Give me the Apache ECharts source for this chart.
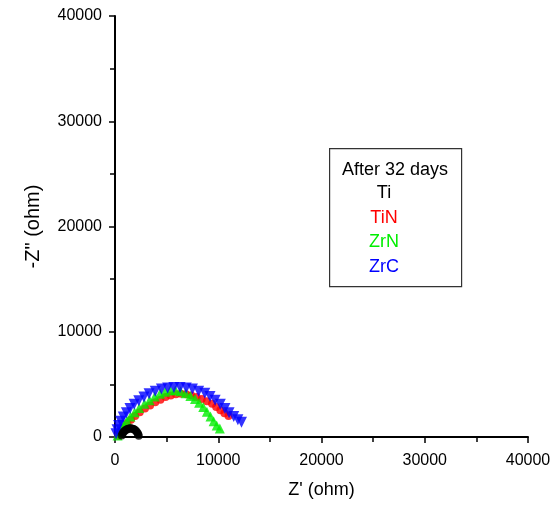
<!DOCTYPE html>
<html><head><meta charset="utf-8">
<script src="https://cdn.jsdelivr.net/npm/echarts@6/dist/echarts.min.js"></script>
<style>html,body{margin:0;padding:0;background:#fff}#c{width:558px;height:505px}</style>
</head><body><div id="c"></div>
<script>
var seriesNames = ['Ti', 'TiN', 'ZrN', 'ZrC'];
var legendTitle = 'After 32 days';
var xTicks = [0, 10000, 20000, 30000, 40000];
var yTicks = [0, 10000, 20000, 30000, 40000];

var ti = [[650,150],[720,300],[800,430],[900,540],[1000,630],[1100,700],[1200,750],[1300,790],[1400,810],[1500,820],[1600,810],[1700,790],[1800,750],[1900,690],[2000,610],[2100,510],[2180,390],[2250,260],[2300,130]];
var tin = [[300,100],[450,350],[650,650],[900,950],[1200,1300],[1550,1650],[1950,2000],[2400,2350],[2900,2700],[3400,3000],[3900,3300],[4400,3550],[4900,3800],[5400,3950],[5900,4050],[6400,4100],[6900,4050],[7400,3950],[7900,3800],[8400,3600],[8900,3400],[9400,3150],[9800,2850],[10200,2550],[10600,2250],[11000,2000]];
var zrn = [[250,150],[400,450],[600,800],[850,1150],[1150,1550],[1500,1950],[1900,2350],[2350,2750],[2850,3150],[3350,3500],[3850,3850],[4350,4100],[4850,4300],[5350,4450],[5850,4450],[6350,4350],[6850,4150],[7300,3900],[7750,3600],[8150,3250],[8550,2850],[8900,2400],[9250,1950],[9550,1500],[9850,1100],[10150,800]];
var zrc = [[100,300],[200,700],[350,1100],[550,1500],[800,1900],[1100,2300],[1450,2700],[1850,3100],[2300,3450],[2800,3800],[3300,4100],[3900,4350],[4500,4550],[5100,4650],[5700,4700],[6300,4700],[6900,4650],[7500,4550],[8100,4350],[8700,4150],[9200,3850],[9700,3500],[10200,3100],[10650,2700],[11050,2300],[11500,1950],[11900,1650],[12250,1400]];

var colors = ['#000000', '#ff0000', '#00ee00', '#0000ff'];
var chart = echarts.init(document.getElementById('c'));
function fmt(v) { return String(v); }
var axisCommon = {
  min: 0, max: 40000, interval: 10000,
  axisLine: {show: true, lineStyle: {color: '#000', width: 2}},
  axisTick: {show: true, inside: false, length: 6, lineStyle: {color: '#000', width: 1.5}},
  minorTick: {show: true, splitNumber: 2, length: 5, lineStyle: {color: '#000', width: 1.5}},
  splitLine: {show: false},
  nameLocation: 'middle'
};
var labelStyle = {color: '#000', fontFamily: 'Liberation Sans, Arial', fontSize: 16, formatter: fmt};
var option = {
  animation: false,
  backgroundColor: '#fff',
  grid: {left: 115, right: 30, top: 16, bottom: 68, containLabel: false},
  xAxis: Object.assign({}, axisCommon, {type: 'value', name: "Z' (ohm)", nameGap: 44,
    nameTextStyle: {color: '#000', fontFamily: 'Liberation Sans, Arial', fontSize: 18},
    axisLabel: Object.assign({}, labelStyle, {margin: 16})}),
  yAxis: Object.assign({}, axisCommon, {type: 'value', name: '-Z" (ohm)', nameGap: 72,
    nameTextStyle: {color: '#000', fontFamily: 'Liberation Sans, Arial', fontSize: 20},
    axisLabel: Object.assign({}, labelStyle, {margin: 13})}),
  series: [
    {name: seriesNames[1], type: 'scatter', data: tin, symbol: 'circle', symbolSize: 8, itemStyle: {color: colors[1]}, z: 2},
    {name: seriesNames[2], type: 'scatter', data: zrn, symbol: 'triangle', symbolSize: 10, itemStyle: {color: colors[2]}, z: 3},
    {name: seriesNames[3], type: 'scatter', data: zrc, symbol: 'triangle', symbolRotate: 180, symbolSize: 11, itemStyle: {color: colors[3]}, z: 4},
    {name: seriesNames[0], type: 'scatter', data: ti, symbol: 'circle', symbolSize: 8, itemStyle: {color: colors[0]}, z: 5}
  ],
  graphic: [
    {type: 'rect', left: 329, top: 148, shape: {width: 132, height: 138}, style: {fill: '#fff', stroke: '#333', lineWidth: 1.2}, z: 10},
    {type: 'text', x: 395, y: 170, style: {text: legendTitle, fill: '#000', font: '18px "Liberation Sans", Arial', textAlign: 'center', textVerticalAlign: 'middle'}, z: 11}
  ].concat(seriesNames.map(function (n, i) {
    return {type: 'text', x: 384, y: 193 + i * 24.7, style: {text: n, fill: colors[i], font: '18px "Liberation Sans", Arial', textAlign: 'center', textVerticalAlign: 'middle'}, z: 11};
  }))
};
chart.setOption(option);
</script></body></html>
